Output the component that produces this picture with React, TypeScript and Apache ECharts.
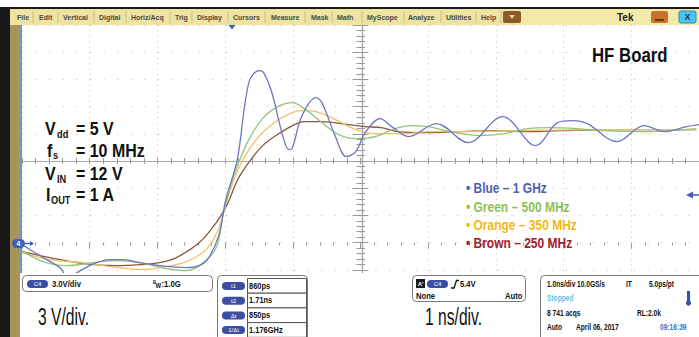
import React, { useEffect, useRef } from "react";
import * as echarts from "echarts";

// Axes: 1 ns/div horizontally, 3 V/div vertically
const timeMin = -5;
const timeMax = 5;
const timeStep = 1;
const voltMin = -6;
const voltMax = 24;
const voltStep = 3;

const blueTime = [-5.0, -4.69, -4.44, -4.32, -4.21, -4.0, -3.71, -3.49, -3.26, -2.97, -2.57, -2.38, -2.24, -2.09, -1.99, -1.82, -1.65, -1.5, -1.43, -1.31, -1.16, -1.06, -1.01, -0.87, -0.66, -0.57, -0.37, -0.21, -0.07, 0.07, 0.29, 0.46, 0.71, 1.12, 1.59, 2.1, 2.59, 2.91, 3.13, 3.35, 3.79, 4.19, 4.49, 4.82, 5.0];
const blueVolts = [-0.22, -1.65, -2.76, -3.86, -3.42, -2.54, -1.88, -1.88, -2.21, -2.54, -2.76, -2.54, -1.65, 0.88, 4.74, 9.15, 17.65, 18.97, 18.75, 16.55, 12.13, 10.26, 10.37, 13.9, 15.99, 15.44, 11.69, 9.49, 10.04, 12.13, 13.68, 12.79, 11.69, 13.13, 11.03, 13.9, 10.7, 13.24, 13.46, 13.13, 11.14, 12.91, 12.24, 12.79, 13.02];

const greenTime = [-5.0, -4.69, -4.34, -3.96, -3.6, -3.26, -2.87, -2.57, -2.34, -2.13, -2.03, -1.91, -1.79, -1.65, -1.46, -1.25, -1.01, -0.81, -0.57, -0.32, -0.07, 0.22, 0.51, 0.75, 1.0, 1.25, 1.49, 1.74, 2.13, 2.47, 2.81, 3.21, 3.6, 4.19, 4.96];
const greenVolts = [-0.88, -2.1, -2.54, -2.21, -1.99, -2.21, -2.87, -3.09, -2.32, -0.55, 3.0, 6.5, 9.0, 11.36, 13.57, 14.89, 15.44, 14.67, 13.24, 11.91, 11.47, 11.69, 12.57, 12.91, 12.79, 12.35, 12.02, 11.8, 12.02, 12.57, 12.68, 12.57, 12.35, 12.24, 12.57];

const orangeTime = [-5.0, -4.59, -4.1, -3.6, -3.22, -2.87, -2.57, -2.28, -2.09, -1.97, -1.79, -1.54, -1.25, -1.01, -0.88, -0.66, -0.37, -0.07, 0.22, 0.66, 1.0, 1.49, 2.32, 3.5, 4.96];
const orangeVolts = [-1.1, -1.88, -2.21, -2.76, -2.98, -2.65, -2.1, -0.77, 1.65, 4.74, 8.38, 11.36, 13.35, 14.34, 14.56, 14.45, 13.57, 12.46, 12.02, 12.02, 12.24, 12.24, 12.35, 12.46, 12.46];

const brownTime = [-5.0, -4.59, -4.1, -3.6, -3.26, -2.97, -2.72, -2.38, -2.13, -1.97, -1.79, -1.46, -1.16, -0.91, -0.81, -0.57, -0.18, 0.07, 0.31, 0.56, 1.0, 1.49, 1.99, 2.47, 2.96, 3.79, 4.96];
const brownVolts = [-0.99, -1.65, -2.32, -2.54, -2.43, -2.21, -1.65, 0.0, 2.21, 4.19, 7.28, 10.59, 12.24, 13.24, 13.35, 13.35, 13.02, 12.79, 12.68, 12.24, 12.13, 12.24, 12.35, 12.24, 12.35, 12.46, 12.46];

const legendLabels = ["• Blue – 1 GHz", "• Green – 500 MHz", "• Orange – 350 MHz", "• Brown – 250 MHz"];
const menuLabels = ["File", "Edit", "Vertical", "Digital", "Horiz/Acq", "Trig", "Display", "Cursors", "Measure", "Mask", "Math", "MyScope", "Analyze", "Utilities", "Help"];
const cursorLabels = ["t1", "t2", "Δt", "1/Δt"];
const cursorValues = ["860ps", "1.71ns", "850ps", "1.176GHz"];

const menuX = [17, 39, 63, 99, 131, 175, 197, 233, 271, 311, 337, 367, 408, 446, 481];
const menuSepX = [33, 58, 94, 126, 170, 192, 228, 265, 305, 332, 362, 404, 441, 476, 501];

const sans = "'Liberation Sans', Arial, sans-serif";

const traceColors = { blue: "#6c77c4", green: "#93c47d", orange: "#f2c06a", brown: "#85593f" };
const labelColors = ["#4a62ad", "#8cc152", "#f5b814", "#a0222a"];

function zip(t: number[], v: number[]) {
  return t.map((x, i) => [x, v[i]]);
}

function txt(x: number, y: number, text: string, o: any = {}, z = 50) {
  return {
    type: "text",
    x,
    y,
    z,
    scaleX: o.sx ?? 0.85,
    silent: true,
    style: {
      text,
      fontSize: o.size ?? 9,
      fontWeight: o.weight ?? "bold",
      fontFamily: sans,
      fill: o.fill ?? "#111",
      align: o.align ?? "left",
      verticalAlign: "middle",
    },
  };
}

function buildGraphics() {
  const G: any[] = [];
  // window chrome
  G.push({ type: "rect", z: 10, shape: { x: 0, y: 7, width: 699, height: 2 }, style: { fill: "#1a1a1a" } });
  G.push({ type: "rect", z: 10, shape: { x: 10, y: 9, width: 689, height: 16 }, style: { fill: "#eee3a0" } });
  G.push({ type: "rect", z: 10, shape: { x: 521, y: 9, width: 178, height: 16 }, style: { fill: "#f3eaa8" } });
  menuSepX.forEach((x) => G.push({ type: "line", z: 11, shape: { x1: x, y1: 11, x2: x, y2: 23 }, style: { stroke: "#cbbf80", lineWidth: 1 } }));
  menuLabels.forEach((t, i) => G.push(txt(menuX[i], 17, t, { size: 7, sx: 1, fill: "#4d4a3c" }, 11)));
  G.push({ type: "rect", z: 11, shape: { x: 503, y: 11, width: 18, height: 12, r: 2 }, style: { fill: "#8b5a2b" } });
  G.push({ type: "polygon", z: 12, shape: { points: [[509, 15], [515, 15], [512, 19]] }, style: { fill: "#f3d27a" } });
  G.push(txt(617, 17, "Tek", { size: 10, sx: 1, fill: "#222" }, 11));
  G.push({ type: "rect", z: 11, shape: { x: 651, y: 11, width: 17, height: 12, r: 2 }, style: { fill: "#c8732c" } });
  G.push({ type: "line", z: 12, shape: { x1: 655, y1: 20, x2: 664, y2: 20 }, style: { stroke: "#4a2400", lineWidth: 1.5 } });
  G.push({ type: "rect", z: 11, shape: { x: 679, y: 11, width: 17, height: 12, r: 2 }, style: { fill: "#4cc4f0", stroke: "#2a88b8" } });
  G.push(txt(687.5, 17, "X", { size: 9, sx: 1, fill: "#1a3550", align: "center" }, 12));
  // left strips
  G.push({ type: "rect", z: 10, shape: { x: 0, y: 7, width: 10, height: 330 }, style: { fill: "#181818" } });
  G.push({ type: "rect", z: 10, shape: { x: 10, y: 25, width: 10, height: 312 }, style: { fill: "#a99557" } });
  G.push({ type: "rect", z: 10, shape: { x: 20, y: 25, width: 2, height: 248 }, style: { fill: "#6f96cf" } });
  // channel 4 ground marker
  G.push({ type: "rect", z: 60, shape: { x: 12, y: 239, width: 13, height: 9, r: 4.5 }, style: { fill: "#3f5fb8" } });
  G.push(txt(18.5, 243.5, "4", { size: 7, sx: 1, fill: "#fff", align: "center" }, 61));
  G.push({ type: "line", z: 60, shape: { x1: 25, y1: 243.5, x2: 31, y2: 243.5 }, style: { stroke: "#3f5fb8", lineWidth: 1.5 } });
  G.push({ type: "polygon", z: 60, shape: { points: [[30, 241], [34, 243.5], [30, 246]] }, style: { fill: "#3f5fb8" } });
  // trigger level marker (right) and trigger position (top)
  G.push({ type: "polygon", z: 60, shape: { points: [[686, 195], [693, 191.5], [693, 198.5]] }, style: { fill: "#3f5fb8" } });
  G.push({ type: "line", z: 60, shape: { x1: 692, y1: 195, x2: 699, y2: 195 }, style: { stroke: "#3f5fb8", lineWidth: 1.5 } });
  G.push({ type: "polygon", z: 60, shape: { points: [[228.5, 25], [235.5, 25], [232, 29.5]] }, style: { fill: "#3f5fb8" } });

  // annotations
  G.push(txt(592, 55, "HF Board", { size: 21, sx: 0.8 }));
  const big = { size: 19, sx: 0.84 };
  const sub = { size: 11, sx: 0.84 };
  G.push(txt(45, 129, "V", big));
  G.push(txt(57, 134, "dd", sub));
  G.push(txt(76, 129, "= 5 V", big));
  G.push(txt(47, 151, "f", big));
  G.push(txt(53, 155, "s", sub));
  G.push(txt(76, 151, "= 10 MHz", big));
  G.push(txt(45, 174, "V", big));
  G.push(txt(57, 179, "IN", sub));
  G.push(txt(76, 174, "= 12 V", big));
  G.push(txt(46, 195, "I", big));
  G.push(txt(51, 200, "OUT", sub));
  G.push(txt(76, 195, "= 1 A", big));
  const legY = [188, 207, 225, 243];
  legendLabels.forEach((t, i) => G.push(txt(466, legY[i], t, { size: 15, sx: 0.8, fill: labelColors[i] })));

  // lower readout area
  G.push({ type: "rect", z: 100, shape: { x: 22, y: 273, width: 677, height: 64 }, style: { fill: "#fff" } });
  const box = (x: number, y: number, w: number, h: number) =>
    G.push({ type: "rect", z: 101, shape: { x, y, width: w, height: h, r: 4 }, style: { fill: "#fff", stroke: "#7a7a7a", lineWidth: 1 } });
  const pill = (x: number, y: number, w: number, label: string) => {
    G.push({ type: "rect", z: 102, shape: { x, y, width: w, height: 8, r: 4 }, style: { fill: "#3a4ea3" } });
    G.push(txt(x + w / 2, y + 4.3, label, { size: 6, sx: 1, weight: "normal", fill: "#fff", align: "center" }, 103));
  };
  // panel 1
  box(22.5, 275.5, 190, 16);
  pill(27, 280, 21, "C4");
  G.push(txt(52, 284, "3.0V/div", {}, 103));
  G.push(txt(153, 282, "B", { size: 5 }, 103));
  G.push(txt(155.5, 285, "W", { size: 7 }, 103));
  G.push(txt(161.5, 284, ":1.0G", {}, 103));
  // panel 2 (cursors)
  box(217.5, 275.5, 90, 70);
  cursorLabels.forEach((lab, i) => {
    const cy = 286 + i * 14.7;
    pill(222, cy - 4, 23, lab);
    G.push({ type: "rect", z: 102, shape: { x: 247.5, y: cy - 7.5, width: 59, height: 14.7 }, style: { fill: "#fff", stroke: "#555", lineWidth: 1 } });
    G.push(txt(249, cy, cursorValues[i], { size: 8.5, sx: 0.88 }, 103));
  });
  // panel 3 (trigger)
  box(412.5, 275.5, 113, 26);
  G.push({ type: "rect", z: 102, shape: { x: 416, y: 279, width: 9, height: 9 }, style: { fill: "#1a1a1a" } });
  G.push(txt(420.5, 283.8, "A'", { size: 6, sx: 1, fill: "#fff", align: "center" }, 103));
  pill(427, 280, 21, "C4");
  G.push({ type: "polyline", z: 102, shape: { points: [[451, 288], [454, 288], [456.5, 280.5], [459, 280.5]] }, style: { stroke: "#111", lineWidth: 1.3, fill: "none" } });
  G.push(txt(460, 284, "5.4V", {}, 103));
  G.push(txt(416, 296, "None", {}, 103));
  G.push(txt(505, 296, "Auto", {}, 103));
  // panel 4 (acquisition)
  box(540.5, 275.5, 170, 70);
  const acq = { size: 8.5, sx: 0.78 };
  G.push(txt(547, 284, "1.0ns/div", acq, 103));
  G.push(txt(577, 284, "10.0GS/s", acq, 103));
  G.push(txt(626, 284, "IT", acq, 103));
  G.push(txt(649, 284, "5.0ps/pt", acq, 103));
  G.push(txt(547, 298, "Stopped", { ...acq, fill: "#5cc3e3" }, 103));
  G.push({ type: "rect", z: 102, shape: { x: 687, y: 291, width: 3, height: 11 }, style: { fill: "#2f52b0" } });
  G.push({ type: "circle", z: 102, shape: { cx: 688.5, cy: 303, r: 2.6 }, style: { fill: "#2f52b0" } });
  G.push(txt(547, 313, "8 741 acqs", acq, 103));
  G.push(txt(637, 313, "RL:2.0k", acq, 103));
  G.push(txt(547, 327, "Auto", acq, 103));
  G.push(txt(576, 327, "April 06, 2017", acq, 103));
  G.push(txt(660, 327, "09:16:39", { ...acq, fill: "#3b6fc0" }, 103));
  // scale captions
  G.push(txt(38, 317, "3 V/div.", { size: 23, sx: 0.68, weight: "normal" }, 103));
  G.push(txt(425, 317, "1 ns/div.", { size: 23, sx: 0.68, weight: "normal" }, 103));
  return G;
}

const baseAxis = { type: "value", axisLabel: { show: false }, splitLine: { show: false } };

function xAx(extra: any) {
  return { ...baseAxis, min: timeMin, max: timeMax, interval: timeStep, ...extra };
}
function yAx(extra: any) {
  return { ...baseAxis, min: voltMin, max: voltMax, interval: voltStep, ...extra };
}

const tickStyle = { color: "#9a9a9a", width: 1 };
const centerLine = { show: true, lineStyle: { color: "#a9a9a9", width: 1.2 } };

export default function App() {
  const ref = useRef<HTMLDivElement>(null);
  useEffect(() => {
    if (!ref.current) return;
    const chart = echarts.init(ref.current, null, { renderer: "svg" });
    const line = (name: string, data: number[][], color: string) => ({
      name,
      type: "line",
      data,
      xAxisIndex: 0,
      yAxisIndex: 0,
      showSymbol: false,
      symbol: "none",
      smooth: 0.35,
      lineStyle: { color, width: 1.3 },
      z: 5,
    });
    chart.setOption({
      animation: false,
      backgroundColor: "#ffffff",
      grid: { left: 22, top: 25, width: 680, height: 272 },
      xAxis: [
        xAx({ position: "bottom", axisLine: { show: false }, axisTick: { show: false }, splitLine: { show: true, lineStyle: { color: "#c4c4c4", width: 1, type: [1, 4.44] } } }),
        xAx({ position: "top", axisLine: { show: false }, axisTick: { show: true, inside: true, length: 6, lineStyle: tickStyle }, minorTick: { show: true, splitNumber: 5, length: 3, lineStyle: tickStyle } }),
        xAx({ position: "bottom", offset: -136, axisLine: centerLine, axisTick: { show: true, inside: false, length: 3, lineStyle: tickStyle }, minorTick: { show: true, splitNumber: 5, length: 3, lineStyle: tickStyle } }),
        xAx({ position: "top", offset: -136, axisLine: centerLine, axisTick: { show: true, inside: false, length: 3, lineStyle: tickStyle }, minorTick: { show: true, splitNumber: 5, length: 3, lineStyle: tickStyle } }),
      ],
      yAxis: [
        yAx({ position: "left", axisLine: { show: false }, axisTick: { show: true, inside: true, length: 8, lineStyle: tickStyle }, minorTick: { show: true, splitNumber: 5, length: 4, lineStyle: tickStyle }, splitLine: { show: true, lineStyle: { color: "#bdbdbd", width: 1, type: [1, 12.6] } } }),
        yAx({ position: "right", axisLine: { show: false }, axisTick: { show: true, inside: true, length: 8, lineStyle: tickStyle }, minorTick: { show: true, splitNumber: 5, length: 4, lineStyle: tickStyle } }),
        yAx({ position: "left", offset: -340, axisLine: centerLine, axisTick: { show: true, inside: false, length: 3, lineStyle: tickStyle }, minorTick: { show: true, splitNumber: 5, length: 3, lineStyle: tickStyle } }),
        yAx({ position: "right", offset: -340, axisLine: centerLine, axisTick: { show: true, inside: false, length: 3, lineStyle: tickStyle }, minorTick: { show: true, splitNumber: 5, length: 3, lineStyle: tickStyle } }),
      ],
      series: [
        line("Brown", zip(brownTime, brownVolts), traceColors.brown),
        line("Orange", zip(orangeTime, orangeVolts), traceColors.orange),
        line("Green", zip(greenTime, greenVolts), traceColors.green),
        line("Blue", zip(blueTime, blueVolts), traceColors.blue),
      ],
      graphic: { elements: buildGraphics() },
    });
    return () => chart.dispose();
  }, []);
  return <div ref={ref} style={{ position: "absolute", left: 0, top: 0, width: 699, height: 337 }} />;
}
